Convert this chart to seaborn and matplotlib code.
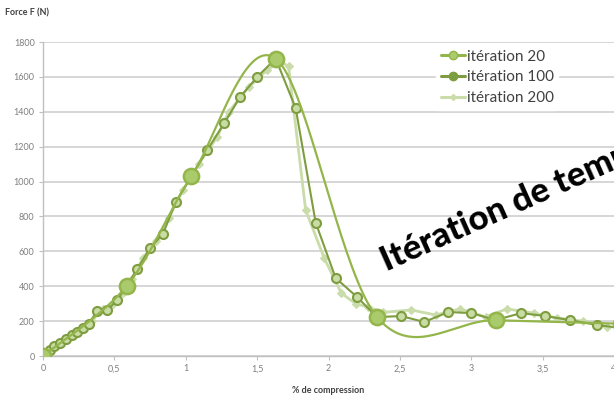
import numpy as np
import pandas as pd
import matplotlib
matplotlib.use("Agg")
import matplotlib.pyplot as plt
import seaborn as sns
from matplotlib.lines import Line2D

# ---- data ----
x_it20 = [0.0, 0.585, 1.04, 1.63, 2.34, 3.17, 4.05]
y_it20 = [0, 400, 1030, 1705, 223, 205, 185]

x_it100 = [0.0, 0.02, 0.05, 0.08, 0.12, 0.16, 0.20, 0.24, 0.28, 0.32, 0.38, 0.45,
           0.52, 0.585, 0.66, 0.75, 0.84, 0.93, 1.04, 1.15, 1.27, 1.38, 1.50,
           1.63, 1.77, 1.91, 2.05, 2.20, 2.34, 2.51, 2.67, 2.84, 3.00, 3.17,
           3.35, 3.52, 3.69, 3.88, 4.05]
y_it100 = [0, 12, 35, 55, 75, 95, 118, 140, 160, 185, 258, 263,
           321, 400, 498, 619, 699, 883, 1030, 1180, 1335, 1484, 1599,
           1705, 1421, 765, 447, 338, 223, 229, 195, 252, 246, 206,
           246, 229, 206, 178, 160]

x_it200 = [0.0, 0.03, 0.06, 0.10, 0.14, 0.18, 0.22, 0.26, 0.30, 0.34, 0.42, 0.49,
           0.56, 0.62, 0.70, 0.79, 0.88, 0.98, 1.09, 1.22, 1.30, 1.44, 1.57,
           1.66, 1.72, 1.84, 1.97, 2.09, 2.19, 2.28, 2.38, 2.58, 2.75, 2.92,
           3.10, 3.25, 3.44, 3.60, 3.78, 3.95]
y_it200 = [0, 20, 40, 60, 80, 105, 128, 150, 172, 200, 270, 300,
           360, 440, 560, 660, 790, 950, 1100, 1255, 1398, 1541, 1639,
           1690, 1660, 837, 561, 360, 300, 280, 250, 264, 235, 270,
           225, 270, 246, 218, 200, 168]

series_names = ["itération 20", "itération 100", "itération 200"]
y_ticks = [0, 200, 400, 600, 800, 1000, 1200, 1400, 1600, 1800]
x_ticks = [0, 0.5, 1, 1.5, 2, 2.5, 3, 3.5, 4]
x_tick_labels = ["0", "0,5", "1", "1,5", "2", "2,5", "3", "3,5", "4"]

# ---- styling ----
C20_LINE = "#93b54a"
C20_FACE = "#aacb6c"
C100_LINE = "#7e9d40"
C100_FACE = "#c9dca3"
C200 = "#c9dcaa"
GRID = "#cfcfcf"

sns.set_theme(style="white")
plt.rcParams["font.family"] = ["Lato", "DejaVu Sans"]

fig = plt.figure(figsize=(6.14, 3.96), dpi=100)
ax = fig.add_axes([43 / 614, 1 - 356 / 396, 1 - 43 / 614, (356 - 42) / 396])

XMAX = 3.98
ax.set_xlim(0, XMAX)
ax.set_ylim(0, 1800)

# screen scale for Excel-like smoothing
sx = (614 - 43) / XMAX
sy = (356 - 42) / 1800.0


def smooth_curve(xs, ys, n=40):
    P = np.column_stack([np.asarray(xs) * sx, np.asarray(ys) * sy])
    out = []
    for i in range(len(P) - 1):
        p0 = P[i - 1] if i > 0 else P[i]
        p1, p2 = P[i], P[i + 1]
        p3 = P[i + 2] if i + 2 < len(P) else P[i + 1]
        c1 = p1 + (p2 - p0) / 6.0
        c2 = p2 - (p3 - p1) / 6.0
        t = np.linspace(0, 1, n)[:, None]
        seg = ((1 - t) ** 3) * p1 + 3 * ((1 - t) ** 2) * t * c1 + 3 * (1 - t) * t ** 2 * c2 + t ** 3 * p2
        out.append(seg if i == 0 else seg[1:])
    S = np.vstack(out)
    return S[:, 0] / sx, S[:, 1] / sy


df200 = pd.DataFrame({"x": x_it200, "y": y_it200})
df100 = pd.DataFrame({"x": x_it100, "y": y_it100})
df20 = pd.DataFrame({"x": x_it20, "y": y_it20})

# iteration 200 (pale, small markers)
sns.lineplot(data=df200, x="x", y="y", ax=ax, sort=False, color=C200, lw=2.0,
             marker="D", markersize=4, markerfacecolor=C200, markeredgecolor=C200,
             zorder=3)
# iteration 100 (medium circles)
sns.lineplot(data=df100, x="x", y="y", ax=ax, sort=False, color=C100_LINE, lw=1.5,
             marker="o", markersize=6.5, markerfacecolor=C100_FACE,
             markeredgecolor=C100_LINE, markeredgewidth=1.5, zorder=4)
# iteration 20 (smoothed line, big circles)
sx20, sy20 = smooth_curve(x_it20, y_it20)
sns.lineplot(x=sx20, y=sy20, ax=ax, sort=False, color=C20_LINE, lw=1.6, zorder=5)
sns.scatterplot(data=df20, x="x", y="y", ax=ax, s=120, color=C20_FACE,
                edgecolor=C20_LINE, linewidth=1.8, zorder=6, clip_on=True)

# axes cosmetics
ax.set_yticks(y_ticks)
ax.set_xticks(x_ticks)
ax.set_xticklabels(x_tick_labels)
ax.grid(axis="y", color=GRID, lw=1.2)
ax.set_axisbelow(True)
for s in ["top", "right"]:
    ax.spines[s].set_visible(False)
ax.spines["left"].set_color("#c0c0c0")
ax.spines["bottom"].set_color("#c0c0c0")
ax.spines["left"].set_linewidth(1.0)
ax.spines["bottom"].set_linewidth(1.0)
ax.tick_params(axis="both", which="both", length=3, width=0.8, color="#c0c0c0",
               labelsize=6.5, labelcolor="#7f7f7f", pad=3, direction="out",
               left=True, bottom=True)
ax.set_xlabel("% de compression", fontsize=6.5, fontweight="bold", color="#404040", labelpad=9)
ax.set_ylabel("")

fig.text(5 / 614, 1 - 13 / 396, "Force F (N)", fontsize=6.5, fontweight="bold",
         color="#404040", ha="left", va="center")

# legend
handles = [
    Line2D([], [], color=C20_LINE, lw=2.2, marker="o", markersize=6,
           markerfacecolor=C20_FACE, markeredgecolor=C20_LINE),
    Line2D([], [], color=C100_LINE, lw=2.2, marker="o", markersize=6,
           markerfacecolor=C100_LINE, markeredgecolor=C100_LINE),
    Line2D([], [], color=C200, lw=2.2, marker="D", markersize=3,
           markerfacecolor=C200, markeredgecolor=C200),
]
leg = ax.legend(handles, series_names, loc="upper left",
                bbox_to_anchor=((436 - 43) / 571, (356 - 45) / 314),
                frameon=True, fontsize=11, handlelength=1.6, handletextpad=0.1,
                labelspacing=0.45, borderpad=0.3, borderaxespad=0)
leg.get_frame().set_facecolor("white")
leg.get_frame().set_edgecolor("white")
leg.get_frame().set_alpha(1)
for t in leg.get_texts():
    t.set_color("#404040")

# overlay caption (cropped by figure edge like the reference)
fig.text(387 / 614, 1 - 272 / 396, "Itération de temps", fontsize=25, fontweight=900,
         color="black", rotation=24, rotation_mode="anchor", ha="left", va="baseline",
         family=["Lato", "DejaVu Sans"])

fig.savefig("out.png", dpi=100)
